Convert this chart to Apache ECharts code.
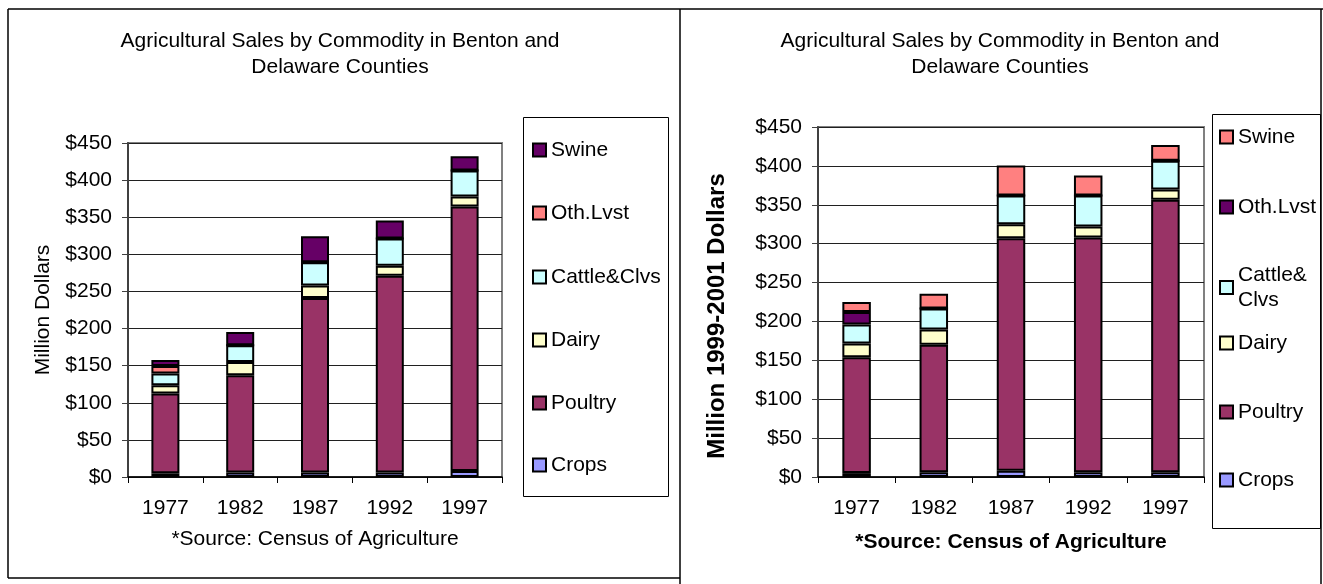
<!DOCTYPE html>
<html>
<head>
<meta charset="utf-8">
<script src="https://cdn.jsdelivr.net/npm/echarts@6/dist/echarts.min.js"></script>
<style>
html,body{margin:0;padding:0;background:#fff;}
#chart{width:1323px;height:584px;}
</style>
</head>
<body>
<div id="chart"></div>
<script>
// ---- data ----
const years = ['1977', '1982', '1987', '1992', '1997'];
const seriesNames = ['Crops', 'Poultry', 'Dairy', 'Cattle&Clvs', 'Oth.Lvst', 'Swine'];
const yTicks = [0, 50, 100, 150, 200, 250, 300, 350, 400, 450];

// Left chart: million dollars (nominal)
const leftCrops   = [5, 6, 6, 6, 8];
const leftPoultry = [107.5, 131, 235, 265, 356.5];
const leftDairy   = [11, 18, 17, 13.5, 13.5];
const leftCattle  = [16, 22.5, 31.5, 37, 35];
const leftOthLvst = [10, 0, 0, 0, 0];
const leftSwine   = [8, 18, 35, 24, 19];

// Right chart: million 1999-2001 dollars
const rightCrops   = [5, 6, 8, 6, 6];
const rightPoultry = [149, 164, 299, 302, 350.5];
const rightDairy   = [17.5, 19.7, 18, 14, 13];
const rightCattle  = [24.5, 27, 37, 40, 37];
const rightOthLvst = [16, 0, 0, 0, 0];
const rightSwine   = [13, 19, 38.5, 25.5, 20.5];

const leftValues  = [leftCrops, leftPoultry, leftDairy, leftCattle, leftOthLvst, leftSwine];
const rightValues = [rightCrops, rightPoultry, rightDairy, rightCattle, rightOthLvst, rightSwine];

// ---- styles ----
const FONT = "'Liberation Sans', Arial, sans-serif";
const leftColors  = ['#9999FF', '#993366', '#FFFFCC', '#CCFFFF', '#FF8080', '#660066'];
const rightColors = ['#9999FF', '#993366', '#FFFFCC', '#CCFFFF', '#660066', '#FF8080'];
const leftLegendCenters  = [465, 403, 340, 277, 213, 150];   // Crops..Swine
const rightLegendCenters = [480, 412, 343, 287.5, 207, 137];

const series = [];
seriesNames.forEach((n, i) => {
  series.push({
    name: n, type: 'bar', stack: 'L', xAxisIndex: 0, yAxisIndex: 0,
    barWidth: 28, data: leftValues[i],
    itemStyle: {color: leftColors[i], borderColor: '#000', borderWidth: 2},
    emphasis: {disabled: true}
  });
});
seriesNames.forEach((n, i) => {
  series.push({
    name: n, type: 'bar', stack: 'R', xAxisIndex: 1, yAxisIndex: 1,
    barWidth: 28.5, data: rightValues[i],
    itemStyle: {color: rightColors[i], borderColor: '#000', borderWidth: 2},
    emphasis: {disabled: true}
  });
});

const legends = [];
seriesNames.forEach((n, i) => {
  legends.push({
    data: [{name: n, itemStyle: {color: leftColors[i], borderColor: '#000', borderWidth: 2}}],
    left: 532, top: leftLegendCenters[i] - 12, padding: 0,
    itemWidth: 13, itemHeight: 13, icon: 'rect', selectedMode: false,
    textStyle: {fontFamily: FONT, fontSize: 21, lineHeight: 24, color: '#000'}
  });
  const two = n === 'Cattle&Clvs';
  legends.push({
    data: [{name: n, itemStyle: {color: rightColors[i], borderColor: '#000', borderWidth: 2}}],
    left: 1219, top: rightLegendCenters[i] - (two ? 25 : 12), padding: 0,
    itemWidth: 13, itemHeight: 13, icon: 'rect', selectedMode: false,
    formatter: two ? 'Cattle&\nClvs' : '{name}',
    textStyle: {fontFamily: FONT, fontSize: 21, lineHeight: two ? 25 : 24, color: '#000'}
  });
});

function xAxisCfg(gi) {
  return {
    type: 'category', data: years, gridIndex: gi,
    axisLine: {lineStyle: {color: '#000', width: 1.5}},
    axisTick: {show: true, length: 6, lineStyle: {color: '#000'}},
    axisLabel: {fontFamily: FONT, fontSize: 21, color: '#000', margin: 21}
  };
}
function yAxisCfg(gi, name, bold, gap) {
  return {
    type: 'value', gridIndex: gi, min: yTicks[0], max: yTicks[yTicks.length - 1], interval: 50,
    name: name, nameLocation: 'middle', nameGap: gap,
    nameTextStyle: {fontFamily: FONT, fontSize: bold ? 24 : 21, fontWeight: bold ? 'bold' : 'normal', color: '#000',
                    padding: bold ? [0, 28, 0, 0] : 0},
    axisLine: {show: true, lineStyle: {color: '#404040', width: 2}},
    axisTick: {show: true, length: 6, lineStyle: {color: '#404040'}},
    splitLine: {lineStyle: {color: '#202020', width: 1}},
    axisLabel: {fontFamily: FONT, fontSize: 21, color: '#000', margin: 16, formatter: v => '$' + v}
  };
}

const option = {
  animation: false,
  backgroundColor: '#fff',
  title: [
    {text: 'Agricultural Sales by Commodity in Benton and\nDelaware Counties', left: 340, top: 28, padding: 0,
     textAlign: 'center', textStyle: {fontFamily: FONT, fontSize: 21, fontWeight: 'normal', lineHeight: 26, color: '#000'}},
    {text: 'Agricultural Sales by Commodity in Benton and\nDelaware Counties', left: 1000, top: 28, padding: 0,
     textAlign: 'center', textStyle: {fontFamily: FONT, fontSize: 21, fontWeight: 'normal', lineHeight: 26, color: '#000'}},
    {text: '*Source: Census of Agriculture', left: 315, top: 526, padding: 0,
     textAlign: 'center', textStyle: {fontFamily: FONT, fontSize: 21, fontWeight: 'normal', lineHeight: 26, color: '#000'}},
    {text: '*Source: Census of Agriculture', left: 1011, top: 529, padding: 0,
     textAlign: 'center', textStyle: {fontFamily: FONT, fontSize: 21, fontWeight: 'bold', lineHeight: 26, color: '#000'}}
  ],
  grid: [
    {left: 128, top: 143, width: 374, height: 334, show: true, borderColor: '#808080', borderWidth: 2, backgroundColor: 'transparent'},
    {left: 818, top: 127, width: 386, height: 350, show: true, borderColor: '#808080', borderWidth: 2, backgroundColor: 'transparent'}
  ],
  xAxis: [xAxisCfg(0), xAxisCfg(1)],
  yAxis: [yAxisCfg(0, 'Million Dollars', false, 74), yAxisCfg(1, 'Million 1999-2001 Dollars', true, 89)],
  legend: legends,
  series: series,
  graphic: [
    {type: 'line', shape: {x1: 8, y1: 9, x2: 1323, y2: 9}, style: {stroke: '#000', lineWidth: 1.5}, silent: true},
    {type: 'line', shape: {x1: 8, y1: 9, x2: 8, y2: 578}, style: {stroke: '#000', lineWidth: 1.5}, silent: true},
    {type: 'line', shape: {x1: 8, y1: 578, x2: 680, y2: 578}, style: {stroke: '#000', lineWidth: 1.5}, silent: true},
    {type: 'line', shape: {x1: 680, y1: 9, x2: 680, y2: 584}, style: {stroke: '#000', lineWidth: 1.5}, silent: true},
    {type: 'line', shape: {x1: 1321, y1: 9, x2: 1321, y2: 584}, style: {stroke: '#000', lineWidth: 1.5}, silent: true},
    {type: 'rect', shape: {x: 523.5, y: 117.5, width: 145, height: 379}, style: {fill: 'none', stroke: '#000', lineWidth: 1}, silent: true, z: -1},
    {type: 'rect', shape: {x: 1212.5, y: 114.5, width: 108, height: 414}, style: {fill: 'none', stroke: '#000', lineWidth: 1}, silent: true, z: -1}
  ]
};

const chart = echarts.init(document.getElementById('chart'), null, {renderer: 'canvas'});
chart.setOption(option);
</script>
</body>
</html>
